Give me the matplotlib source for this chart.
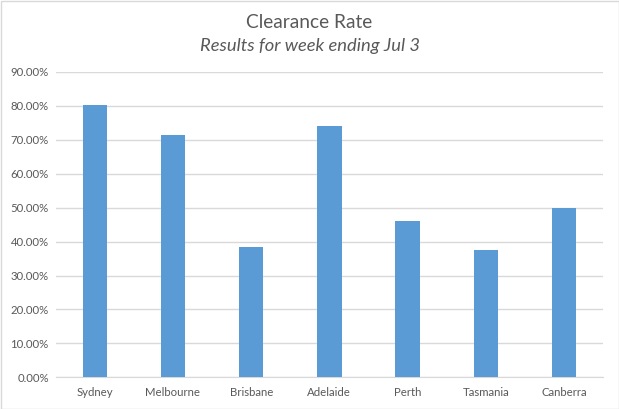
import matplotlib
matplotlib.use("Agg")
import matplotlib.pyplot as plt
from matplotlib.ticker import FuncFormatter, MultipleLocator
from matplotlib.patches import Rectangle

categories = ["Sydney", "Melbourne", "Brisbane", "Adelaide", "Perth", "Tasmania", "Canberra"]
values = [0.803, 0.715, 0.383, 0.741, 0.460, 0.374, 0.498]

plt.rcParams['font.family'] = ['Lato', 'DejaVu Sans']

fig = plt.figure(figsize=(6.19, 4.09), dpi=100)
ax = fig.add_axes([55.7/619, 31.7/409, (603.1-55.7)/619, (377.3-72)/409])

x = range(len(categories))
ax.bar(x, values, width=0.31, color="#5B9BD5", zorder=3)
ax.set_xlim(-0.5, len(categories)-0.5)
ax.set_ylim(0, 0.9)
ax.yaxis.set_major_locator(MultipleLocator(0.1))
ax.yaxis.set_major_formatter(FuncFormatter(lambda v, p: f"{v*100:.2f}%"))
ax.grid(axis='y', color="#D9D9D9", linewidth=1, zorder=0)
ax.set_xticks(list(x))
ax.set_xticklabels(categories)
for s in ['top', 'right', 'left']:
    ax.spines[s].set_visible(False)
ax.spines['bottom'].set_color("#D9D9D9")
ax.tick_params(axis='both', length=0, labelsize=8.2, colors="#595959")
ax.tick_params(axis='x', pad=7)
ax.tick_params(axis='y', pad=5)

fig.text(0.5, 1-23/409, "Clearance Rate", ha='center', va='center', fontsize=13.8, color="#595959")
fig.text(0.5, 1-46/409, "Results for week ending Jul 3", ha='center', va='center', fontsize=13.2, color="#595959", style='italic')

fig.patches.append(Rectangle((0.5/619, 0.5/409), 1-1/619, 1-1/409, transform=fig.transFigure, fill=False, edgecolor="#D9D9D9", linewidth=1))

fig.savefig("out.png", dpi=100)
